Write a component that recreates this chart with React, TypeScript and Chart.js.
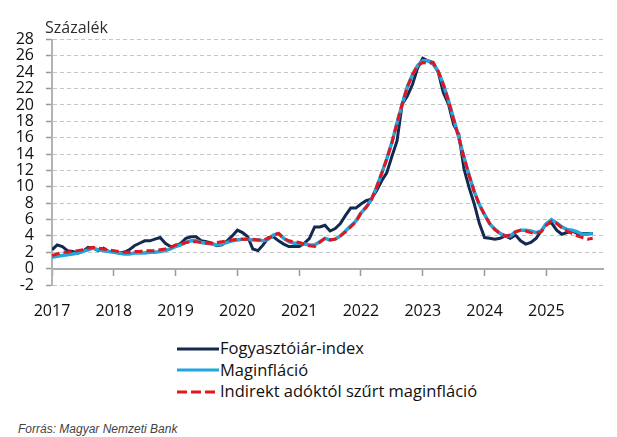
import React, { useEffect, useRef } from "react";
import { Chart, registerables } from "chart.js";

Chart.register(...registerables);

const yearLabels = ["2017", "2018", "2019", "2020", "2021", "2022", "2023", "2024", "2025"];
const yearTickMonths = [0, 12, 24, 36, 48, 60, 72, 84, 96];
const xMax = 107;
const yMin = -2;
const yMax = 28;
const yStep = 2;

const seriesNames = ["Fogyasztóiár-index", "Maginfláció", "Indirekt adóktól szűrt maginfláció"];

// monthly values, Jan 2017 - Oct 2025
const cpi = [
  2.3, 2.9, 2.7, 2.2, 2.1, 1.9, 2.1, 2.6, 2.5, 2.2, 2.5, 2.1,
  2.1, 1.9, 2.0, 2.3, 2.8, 3.1, 3.4, 3.4, 3.6, 3.8, 3.1, 2.7,
  2.7, 3.1, 3.7, 3.9, 3.9, 3.4, 3.3, 3.1, 2.8, 2.9, 3.4, 4.0,
  4.7, 4.4, 3.9, 2.4, 2.2, 2.9, 3.8, 3.9, 3.4, 3.0, 2.7, 2.7,
  2.7, 3.1, 3.7, 5.1, 5.1, 5.3, 4.6, 4.9, 5.5, 6.5, 7.4, 7.4,
  7.9, 8.3, 8.5, 9.5, 10.7, 11.7, 13.7, 15.6, 20.1, 21.1, 22.5, 24.5,
  25.7, 25.4, 25.2, 24.0, 21.5, 20.1, 17.6, 16.4, 12.2, 9.9, 7.9, 5.5,
  3.8, 3.7, 3.6, 3.7, 4.0, 3.7, 4.1, 3.4, 3.0, 3.2, 3.7, 4.6,
  5.5, 5.6, 4.7, 4.2, 4.4, 4.6, 4.3, 4.3, 4.3, 4.3,
];

const core = [
  1.4, 1.5, 1.6, 1.7, 1.8, 1.9, 2.1, 2.3, 2.5, 2.3, 2.2, 2.1,
  2.0, 1.9, 1.8, 1.8, 1.9, 1.9, 1.9, 2.0, 2.0, 2.1, 2.2, 2.4,
  2.7, 2.9, 3.2, 3.4, 3.4, 3.2, 3.1, 3.0, 2.9, 3.0, 3.2, 3.4,
  3.5, 3.6, 3.6, 3.5, 3.5, 3.4, 3.6, 4.1, 4.3, 3.7, 3.3, 3.1,
  3.1, 3.0, 2.9, 2.9, 3.3, 3.7, 3.5, 3.6, 4.0, 4.6, 5.2, 5.8,
  6.8, 7.5, 8.4, 9.9, 11.6, 13.4, 15.4, 17.8, 20.1, 22.2, 23.7, 24.8,
  25.4, 25.4, 25.0, 24.1, 22.5, 20.5, 18.3, 16.0, 13.6, 11.4, 9.4, 7.8,
  6.6, 5.5, 4.8, 4.3, 4.0, 4.0, 4.5, 4.7, 4.7, 4.6, 4.4, 4.6,
  5.5, 6.0, 5.6, 5.1, 4.8, 4.7, 4.5, 4.2, 4.2, 4.3,
];

const coreTaxFiltered = [
  1.6, 1.8, 2.0, 2.0, 2.1, 2.2, 2.3, 2.5, 2.6, 2.5, 2.4, 2.3,
  2.2, 2.1, 2.0, 2.0, 2.1, 2.1, 2.2, 2.2, 2.2, 2.3, 2.4, 2.6,
  2.9, 3.0, 3.2, 3.3, 3.3, 3.2, 3.1, 3.1, 3.2, 3.3, 3.4, 3.5,
  3.6, 3.6, 3.6, 3.6, 3.5, 3.5, 3.7, 4.1, 4.3, 3.7, 3.4, 3.3,
  3.2, 3.0, 2.8, 2.7, 3.2, 3.7, 3.5, 3.6, 4.0, 4.5, 5.1, 5.7,
  6.8, 7.5, 8.4, 9.9, 11.6, 13.4, 15.4, 17.8, 20.1, 22.2, 23.7, 24.8,
  25.2, 25.1, 25.2, 24.1, 22.5, 20.5, 18.2, 16.0, 13.6, 11.4, 9.4, 7.8,
  6.6, 5.5, 4.8, 4.3, 4.0, 4.1, 4.5, 4.7, 4.6, 4.4, 4.3, 4.5,
  5.3, 5.8, 5.5, 5.0, 4.6, 4.3, 4.0, 3.8, 3.6, 3.7,
];

const colCpi = "#13294f";
const colCore = "#21a6e0";
const colTax = "#e3161d";
const fontFamily = '"Open Sans", "Noto Sans", sans-serif';

const toPoints = (arr: number[]) => arr.map((v, i) => ({ x: i, y: v }));

const setYearTicks = (scale: any) => {
  scale.ticks = yearTickMonths.map((v) => ({ value: v }));
};

export default function App() {
  const canvasRef = useRef<HTMLCanvasElement | null>(null);

  useEffect(() => {
    const canvas = canvasRef.current;
    if (!canvas) return;

    const titlePlugin = {
      id: "unitTitle",
      afterDraw(chart: any) {
        const ctx = chart.ctx;
        ctx.save();
        ctx.font = `16px ${fontFamily}`;
        ctx.fillStyle = "#2e2e2e";
        ctx.textAlign = "left";
        ctx.textBaseline = "alphabetic";
        ctx.fillText("Százalék", 45, 33);
        ctx.restore();
      },
    };

    const chart = new Chart(canvas, {
      type: "line",
      data: {
        datasets: [
          {
            label: seriesNames[0],
            data: toPoints(cpi),
            borderColor: colCpi,
            borderWidth: 3,
            pointRadius: 0,
            tension: 0,
            order: 3,
          },
          {
            label: seriesNames[1],
            data: toPoints(core),
            borderColor: colCore,
            borderWidth: 3.5,
            pointRadius: 0,
            tension: 0,
            order: 2,
          },
          {
            label: seriesNames[2],
            data: toPoints(coreTaxFiltered),
            borderColor: colTax,
            borderWidth: 3,
            borderDash: [8, 4],
            pointRadius: 0,
            tension: 0,
            order: 1,
          },
        ],
      },
      options: {
        responsive: false,
        animation: false,
        layout: { padding: { top: 39.5, right: 14, left: 0, bottom: 0 } },
        plugins: {
          legend: { display: false },
          tooltip: { enabled: false },
          title: { display: false },
        },
        scales: {
          x: {
            type: "linear",
            position: "bottom",
            min: 0,
            max: xMax,
            afterBuildTicks: setYearTicks,
            afterFit: (scale: any) => {
              scale.height = 45;
            },
            grid: { display: false, drawTicks: false },
            border: { display: false },
            ticks: {
              autoSkip: false,
              maxRotation: 0,
              padding: 17,
              color: "#111111",
              font: { family: fontFamily, size: 16 },
              callback: (value: any) => {
                const i = yearTickMonths.indexOf(Number(value));
                return i >= 0 ? yearLabels[i] : "";
              },
            },
          },
          x2: {
            type: "linear",
            position: { y: 0 } as any,
            min: 0,
            max: xMax,
            afterBuildTicks: setYearTicks,
            grid: {
              display: true,
              drawOnChartArea: false,
              drawTicks: true,
              tickLength: 6,
              tickColor: "#9a9a9a",
              tickWidth: 1.5,
            },
            border: { display: true, color: "#ababab", width: 2 },
            ticks: { display: false },
          },
          y: {
            type: "linear",
            position: "left",
            min: yMin,
            max: yMax,
            afterFit: (scale: any) => {
              scale.width = 52;
            },
            grid: {
              color: (ctx: any) => (ctx.tick && ctx.tick.value === 0 ? "rgba(0,0,0,0)" : "#c6c6c6"),
              lineWidth: 1,
              drawTicks: true,
              tickLength: 6,
              tickColor: "#9a9a9a",
              tickWidth: 1.5,
              tickBorderDash: [],
            },
            border: { display: true, color: "#b3b3b3", width: 2, dash: [4, 3] },
            ticks: {
              stepSize: yStep,
              autoSkip: false,
              padding: 12,
              color: "#111111",
              font: { family: fontFamily, size: 16 },
            },
          },
        },
      },
      plugins: [titlePlugin],
    });

    return () => chart.destroy();
  }, []);

  const legendRows = [
    { name: seriesNames[0], color: colCpi, dash: "", top: 338 },
    { name: seriesNames[1], color: colCore, dash: "", top: 359.5 },
    { name: seriesNames[2], color: colTax, dash: "10 4", top: 381 },
  ];

  return (
    <div
      style={{
        position: "absolute",
        left: 0,
        top: 0,
        width: 617,
        height: 437,
        background: "#ffffff",
        overflow: "hidden",
      }}
    >
      <canvas
        ref={canvasRef}
        width={617}
        height={330}
        style={{ position: "absolute", left: 0, top: 0, width: 617, height: 330 }}
      />
      {legendRows.map((r) => (
        <div
          key={r.name}
          style={{
            position: "absolute",
            left: 177,
            top: r.top,
            height: 20,
            display: "flex",
            alignItems: "center",
            whiteSpace: "nowrap",
            fontFamily: fontFamily,
            fontSize: 16.5,
            lineHeight: "20px",
            color: "#111111",
          }}
        >
          <svg width={42} height={6} style={{ display: "block", marginRight: 1, marginTop: 1 }}>
            <line
              x1={0}
              y1={3}
              x2={42}
              y2={3}
              stroke={r.color}
              strokeWidth={3}
              strokeDasharray={r.dash || undefined}
            />
          </svg>
          <span>{r.name}</span>
        </div>
      ))}
      <div
        style={{
          position: "absolute",
          left: 18,
          top: 422,
          fontFamily: '"Liberation Sans", Arial, sans-serif',
          fontStyle: "italic",
          fontSize: 12,
          lineHeight: "14px",
          color: "#444444",
          whiteSpace: "nowrap",
        }}
      >
        Forrás: Magyar Nemzeti Bank
      </div>
    </div>
  );
}
